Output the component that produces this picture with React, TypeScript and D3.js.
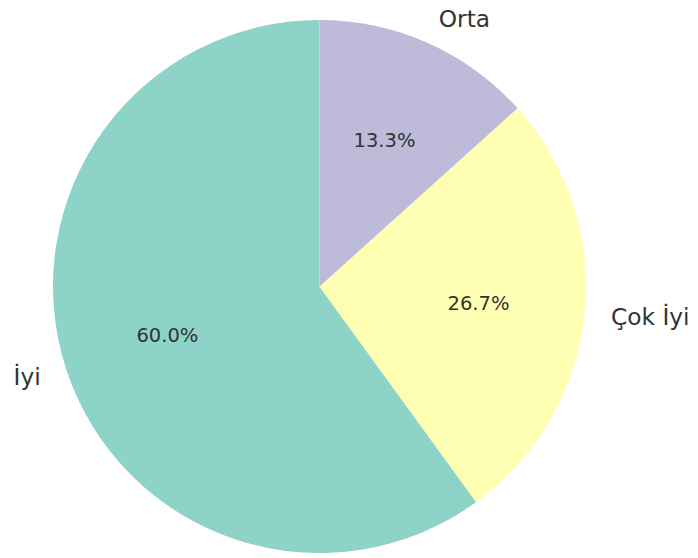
import React from "react";
import * as d3 from "d3";

const categories = ["İyi", "Çok İyi", "Orta"];
const values = [9, 4, 2];
const colors = ["#8dd3c7", "#ffffb3", "#bebada"];

const W = 698;
const H = 558;
const cx = 319.5;
const cy = 286.5;
const R = 266.5;

export default function App() {
  const pie = d3
    .pie<number>()
    .sort(null)
    .startAngle(0)
    .endAngle(-2 * Math.PI)
    .value((d) => d);
  const arcs = pie(values);
  const arc = d3.arc<d3.PieArcDatum<number>>().innerRadius(0).outerRadius(R);
  const total = d3.sum(values);
  const font = "DejaVu Sans, sans-serif";
  return (
    <svg
      width={W}
      height={H}
      style={{ position: "absolute", left: 0, top: 0 }}
    >
      <g transform={`translate(${cx},${cy})`}>
        {arcs.map((a, i) => (
          <path key={"p" + i} d={arc(a) || ""} fill={colors[i]} />
        ))}
        {arcs.map((a, i) => {
          const mid = (a.startAngle + a.endAngle) / 2;
          const lx = Math.sin(mid) * R * 1.1;
          const ly = -Math.cos(mid) * R * 1.1;
          const px = Math.sin(mid) * R * 0.6;
          const py = -Math.cos(mid) * R * 0.6;
          return (
            <g key={"t" + i}>
              <text
                x={lx}
                y={ly + 7.8}
                fontFamily={font}
                fontSize={23.3}
                fill="#333333"
                textAnchor={lx > 0 ? "start" : "end"}
              >
                {categories[i]}
              </text>
              <text
                x={px}
                y={py + 6.5}
                fontFamily={font}
                fontSize={19.5}
                fill="#333333"
                textAnchor="middle"
              >
                {((values[i] / total) * 100).toFixed(1) + "%"}
              </text>
            </g>
          );
        })}
      </g>
    </svg>
  );
}
